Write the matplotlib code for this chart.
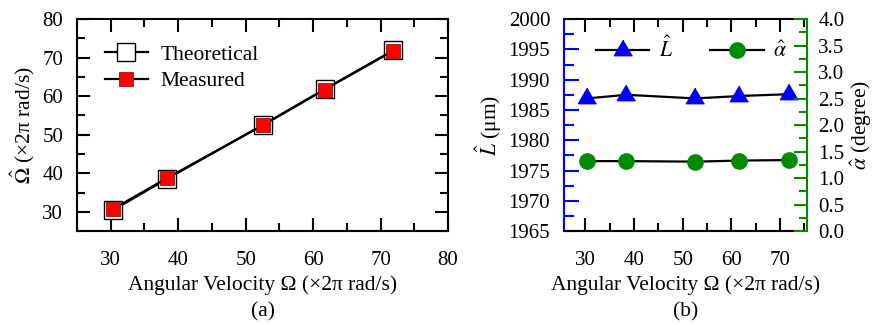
import numpy as np
import matplotlib
matplotlib.use("Agg")
import matplotlib.pyplot as plt
from matplotlib.ticker import MultipleLocator, FormatStrFormatter

# --- data ---
omega = [30.3, 38.4, 52.6, 61.7, 71.9]
omega_theory = [30.4, 38.6, 52.6, 61.8, 71.9]
omega_meas = [30.7, 38.8, 52.5, 61.7, 71.8]

L_hat = [1986.9, 1987.5, 1986.9, 1987.3, 1987.6]
alpha_hat = [1.32, 1.32, 1.31, 1.33, 1.34]

plt.rcParams['font.family'] = ['Liberation Serif', 'DejaVu Serif']
plt.rcParams['mathtext.fontset'] = 'stix'

BLUE = '#0000FF'
GREEN = '#008C00'
RED = '#FF0000'
TFS = 15     # tick labels
LFS = 15.5   # axis labels / legend

# triangle centred on its centroid (like Origin)
tri = [(0, 1), (-0.866, -0.5), (0.866, -0.5)]

fig = plt.figure(figsize=(8.78, 3.25), dpi=100)
ax1 = fig.add_axes([0.0877, 0.289, 0.4226, 0.6523])
ax3 = fig.add_axes([0.6424, 0.289, 0.2768, 0.6523])


def style_ticks(ax):
    ax.tick_params(which='both', direction='in', width=1.5, labelsize=TFS)
    ax.tick_params(which='major', length=9.5)
    ax.tick_params(which='minor', length=6)
    ax.tick_params(axis='x', which='both', pad=14)
    ax.tick_params(axis='y', which='both', pad=10)
    for s in ax.spines.values():
        s.set_linewidth(1.5)


# ---------------- (a) ----------------
ax1.plot(omega, omega_theory, '-', color='k', lw=1.6, marker='s', ms=12.5,
         mfc='white', mec='k', mew=1.0, label='Theoretical')
ax1.plot(omega, omega_meas, '-', color='k', lw=1.6, marker='s', ms=9.5,
         mfc=RED, mec='#800000', mew=0.5, label='Measured')
ax1.set_xlim(25, 80)
ax1.set_ylim(25, 80)
ax1.xaxis.set_major_locator(MultipleLocator(10))
ax1.xaxis.set_minor_locator(MultipleLocator(5))
ax1.yaxis.set_major_locator(MultipleLocator(10))
ax1.yaxis.set_minor_locator(MultipleLocator(5))
style_ticks(ax1)
ax1.tick_params(which='both', top=True, right=True)
ax1.set_xlabel('Angular Velocity Ω (×2π rad/s)', fontsize=LFS, labelpad=4)
ax1.set_ylabel(r'$\hat{\Omega}$ (×2π rad/s)', fontsize=LFS, labelpad=4)
ax1.legend(loc='upper left', bbox_to_anchor=(0.075, 0.88), frameon=False,
           fontsize=LFS, handlelength=2.0, handletextpad=0.6,
           labelspacing=0.3, borderpad=0, borderaxespad=0)
ax1.text(0.5, -0.335, '(a)', transform=ax1.transAxes, ha='center', va='top',
         fontsize=LFS)

# ---------------- (b) ----------------
ax4 = ax3.twinx()
lL, = ax3.plot(omega, L_hat, '-', color='k', lw=1.6, marker=tri, ms=15,
               mfc=BLUE, mec=BLUE, label=r'$\hat{L}$')
la, = ax4.plot(omega, alpha_hat, '-', color='k', lw=1.6, marker='o', ms=11,
               mfc=GREEN, mec=GREEN, label=r'$\hat{\alpha}$')
ax3.set_xlim(25.6, 75.6)
ax3.set_ylim(1965, 2000)
ax4.set_ylim(0, 4)
ax3.xaxis.set_major_locator(MultipleLocator(10))
ax3.xaxis.set_minor_locator(MultipleLocator(5))
ax3.yaxis.set_major_locator(MultipleLocator(5))
ax3.yaxis.set_minor_locator(MultipleLocator(2.5))
ax4.yaxis.set_major_locator(MultipleLocator(0.5))
ax4.yaxis.set_minor_locator(MultipleLocator(0.25))
ax4.yaxis.set_major_formatter(FormatStrFormatter('%.1f'))
style_ticks(ax3)
style_ticks(ax4)
ax3.tick_params(which='both', top=True, right=False)
ax3.tick_params(axis='y', which='both', color=BLUE)
ax3.tick_params(axis='y', which='major', length=11)
ax3.tick_params(axis='y', which='minor', length=7)
ax4.tick_params(axis='y', which='both', color=GREEN, pad=8)
ax3.spines['left'].set_color(BLUE)
ax3.spines['right'].set_visible(False)
ax4.spines['right'].set_color(GREEN)
for s in ('left', 'top', 'bottom'):
    ax4.spines[s].set_visible(False)
ax3.set_xlabel('Angular Velocity Ω (×2π rad/s)', fontsize=LFS, labelpad=4)
ax3.set_ylabel(r'$\hat{L}$ (μm)', fontsize=LFS, labelpad=3)
ax4.set_ylabel(r'$\hat{\alpha}$ (degree)', fontsize=LFS, labelpad=3)
ax3.legend([lL, la], [r'$\hat{L}$', r'$\hat{\alpha}$'], loc='upper left',
           bbox_to_anchor=(0.13, 0.915), ncol=2, frameon=False,
           fontsize=LFS, handlelength=2.5, handletextpad=0.45,
           columnspacing=1.7, borderpad=0, borderaxespad=0)
ax3.text(0.5, -0.335, '(b)', transform=ax3.transAxes, ha='center', va='top',
         fontsize=LFS)

fig.savefig('out.png', dpi=100)
